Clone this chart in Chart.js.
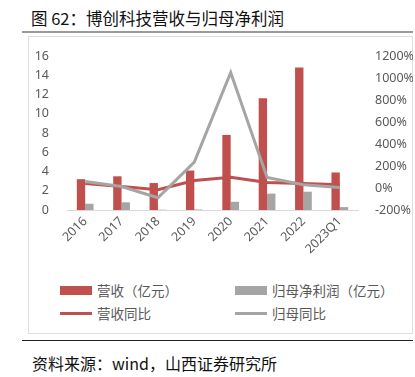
<!DOCTYPE html>
<html>
<head>
<meta charset="utf-8">
<script src="https://cdn.jsdelivr.net/npm/chart.js@4/dist/chart.umd.min.js"></script>
<style>
  body { margin: 0; background: #fff; font-family: "Noto Sans CJK SC", "Noto Sans", sans-serif; }
  #page { position: relative; width: 415px; height: 377px; overflow: hidden; }
  #title { position: absolute; left: 31px; top: 6px; font-size: 16.5px; color: #111; white-space: nowrap; }
  #titleLine { position: absolute; left: 22px; top: 31px; width: 391px; height: 2px; background: #9a9a9a; }
  #frame { position: absolute; left: 28px; top: 36px; width: 385px; height: 298px; border: 1px solid #dedede; box-sizing: border-box; }
  #wrap { position: absolute; left: 28px; top: 37px; width: 385px; height: 239px; }
  #legend { position: absolute; left: 60px; top: 280px; width: 350px; font-size: 13.5px; color: #595959; }
  .item { position: absolute; display: flex; align-items: center; white-space: nowrap; }
  .sw { display: inline-block; width: 32px; margin-right: 5px; }
  #footLine { position: absolute; left: 22px; top: 340px; width: 391px; height: 1px; background: #222; }
  #foot { position: absolute; left: 32px; top: 351px; font-size: 16px; color: #111; white-space: nowrap; }
</style>
</head>
<body>
<div id="page">
  <div id="title">图 62：博创科技营收与归母净利润</div>
  <div id="titleLine"></div>
  <div id="frame"></div>
  <div id="wrap"><canvas id="c"></canvas></div>
  <div id="legend"></div>
  <div id="footLine"></div>
  <div id="foot">资料来源：wind，山西证券研究所</div>
</div>
<script>
// data
var years = ['2016', '2017', '2018', '2019', '2020', '2021', '2022', '2023Q1'];
var revenue = [3.2, 3.5, 2.8, 4.1, 7.8, 11.6, 14.8, 3.9];
var profit = [0.65, 0.8, 0.03, 0.05, 0.85, 1.7, 1.9, 0.3];
var revenueYoY = [40, 13, -15, 68, 97, 50, 40, 30];
var profitYoY = [60, 13, -89, 235, 1050, 95, 30, 5];
var leftTicks = [0, 2, 4, 6, 8, 10, 12, 14, 16];
var rightTicks = [-200, 0, 200, 400, 600, 800, 1000, 1200];

var red = '#C0504D';
var grey = '#A5A5A5';
var tickColor = '#595959';

var datasets = [
  { type: 'bar', label: '营收（亿元）', data: revenue, backgroundColor: red, yAxisID: 'y', order: 2,
    categoryPercentage: 0.46, barPercentage: 1.0 },
  { type: 'bar', label: '归母净利润（亿元）', data: profit, backgroundColor: grey, yAxisID: 'y', order: 2,
    categoryPercentage: 0.46, barPercentage: 1.0 },
  { type: 'line', label: '营收同比', data: revenueYoY, borderColor: red, backgroundColor: red, borderWidth: 3,
    pointRadius: 0, yAxisID: 'y1', order: 1 },
  { type: 'line', label: '归母同比', data: profitYoY, borderColor: grey, backgroundColor: grey, borderWidth: 3,
    pointRadius: 0, yAxisID: 'y1', order: 0 }
];

new Chart(document.getElementById('c'), {
  data: { labels: years, datasets: datasets },
  options: {
    responsive: true,
    maintainAspectRatio: false,
    animation: false,
    layout: { padding: { top: 19, bottom: 0, left: 0, right: 0 } },
    plugins: { legend: { display: false }, tooltip: { enabled: false } },
    scales: {
      x: {
        grid: { display: false, drawTicks: false },
        border: { display: true, color: '#d9d9d9', width: 1 },
        ticks: { color: tickColor, font: { size: 12.5, family: 'Noto Sans' }, maxRotation: 45, minRotation: 45, padding: 4 },
        afterFit: function (s) { s.height = 66; }
      },
      y: {
        position: 'left',
        min: 0, max: 16,
        afterBuildTicks: function (s) { s.ticks = leftTicks.map(function (v) { return { value: v }; }); },
        grid: { display: false },
        border: { display: false },
        ticks: { color: tickColor, font: { size: 12.5, family: 'Noto Sans' }, padding: 10 },
        afterFit: function (s) { s.width = 39; }
      },
      y1: {
        position: 'right',
        min: -200, max: 1200,
        afterBuildTicks: function (s) { s.ticks = rightTicks.map(function (v) { return { value: v }; }); },
        grid: { display: false },
        border: { display: false },
        ticks: { color: tickColor, font: { size: 12.5, family: 'Noto Sans' }, padding: 9,
          callback: function (v) { return v + '%'; } },
        afterFit: function (s) { s.width = 55; }
      }
    }
  }
});

// html legend built from the datasets
var pos = [[0, 0], [175, 0], [0, 23], [175, 23]];
var lg = document.getElementById('legend');
datasets.forEach(function (d, i) {
  var el = document.createElement('div');
  el.className = 'item';
  el.style.left = pos[i][0] + 'px';
  el.style.top = pos[i][1] + 'px';
  var sw = document.createElement('span');
  sw.className = 'sw';
  if (d.type === 'bar') { sw.style.height = '9px'; sw.style.background = d.backgroundColor; }
  else { sw.style.height = '3px'; sw.style.background = d.borderColor; }
  el.appendChild(sw);
  el.appendChild(document.createTextNode(d.label));
  lg.appendChild(el);
});
</script>
</body>
</html>
